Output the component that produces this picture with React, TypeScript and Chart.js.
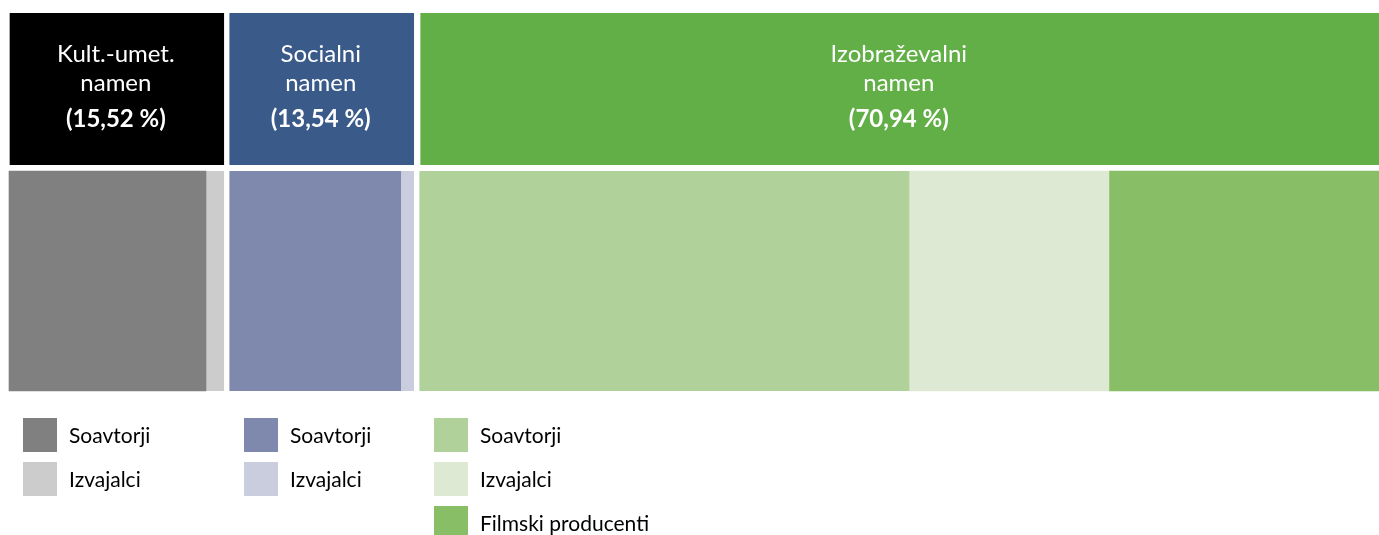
import { useEffect, useRef } from 'react';
import { Chart, registerables } from 'chart.js';

Chart.register(...registerables);

// ---- data ----
const rows = ['Namen', 'Upravičenci'];
const groupTitles = [
  ['Kult.-umet.', 'namen'],
  ['Socialni', 'namen'],
  ['Izobraževalni', 'namen'],
];
const groupShares = [15.52, 13.54, 70.94];
const groupShareLabels = ['(15,52 %)', '(13,54 %)', '(70,94 %)'];

const kultLabels = ['Soavtorji', 'Izvajalci'];
const kultValues = [14.04, 1.48];
const socLabels = ['Soavtorji', 'Izvajalci'];
const socValues = [12.42, 1.12];
const izobLabels = ['Soavtorji', 'Izvajalci', 'Filmski producenti'];
const izobValues = [35.12, 14.22, 21.6];

// ---- styles ----
const headerColors = ['#000000', '#3A5A89', '#62AF47'];
const kultColors = ['#808080', '#CCCCCC'];
const socColors = ['#7F88AD', '#C9CDDE'];
const izobColors = ['#B0D19A', '#DDE9D2', '#87BE66'];
const GAP = 3;
const FONT = 'Lato';

type Group = { labels: string[]; values: number[]; colors: string[] };
const groups: Group[] = [
  { labels: kultLabels, values: kultValues, colors: kultColors },
  { labels: socLabels, values: socValues, colors: socColors },
  { labels: izobLabels, values: izobValues, colors: izobColors },
];

function buildDatasets() {
  const ds: any[] = [];
  groupShares.forEach((v, g) => {
    ds.push({
      label: groupTitles[g].join(' '),
      data: [v, null],
      backgroundColor: headerColors[g],
      borderColor: '#ffffff',
      borderSkipped: false,
      borderWidth: {
        left: g === 0 ? 1 : g === 2 ? GAP + 1 : GAP,
        right: g < groupShares.length - 1 ? GAP : 0,
        top: 0,
        bottom: 0,
      },
      barThickness: 152,
      stack: 's',
      clip: false,
      _kind: 'header',
      _group: g,
    });
  });
  groups.forEach((grp, g) => {
    grp.values.forEach((v, i) => {
      ds.push({
        label: grp.labels[i],
        data: [null, v],
        backgroundColor: grp.colors[i],
        borderColor: '#ffffff',
        borderSkipped: false,
        borderWidth: {
          left: i === 0 && g > 0 ? GAP : 0,
          right: i === grp.values.length - 1 && g < groups.length - 1 ? GAP : 0,
          top: 0,
          bottom: 0,
        },
        barThickness: 220,
        stack: 's',
        clip: false,
        _kind: 'detail',
        _group: g,
        _item: i,
      });
    });
  });
  return ds;
}

const textPlugin = {
  id: 'textPlugin',
  afterDatasetsDraw(chart: any) {
    const ctx = chart.ctx as CanvasRenderingContext2D;
    ctx.save();
    const datasets = chart.data.datasets;
    // header texts
    datasets.forEach((d: any, di: number) => {
      if (d._kind !== 'header') return;
      const el = chart.getDatasetMeta(di).data[0];
      if (!el) return;
      const { x, base, y } = el.getProps(['x', 'base', 'y'], true);
      const left = Math.max(Math.min(x, base) + d.borderWidth.left, 0);
      const right = Math.min(Math.max(x, base) - d.borderWidth.right, chart.width);
      const cx = (left + right) / 2 - 1;
      ctx.fillStyle = '#ffffff';
      ctx.textAlign = 'center';
      ctx.textBaseline = 'alphabetic';
      ctx.font = `24px ${FONT}`;
      ctx.fillText(groupTitles[d._group][0], cx, y - 27);
      ctx.fillText(groupTitles[d._group][1], cx, y + 2);
      ctx.font = `bold 24px ${FONT}`;
      ctx.fillText(groupShareLabels[d._group], cx, y + 38);
    });
    // legend
    datasets.forEach((d: any, di: number) => {
      if (d._kind !== 'detail') return;
      const firstIdx = datasets.findIndex((o: any) => o._kind === 'detail' && o._group === d._group && o._item === 0);
      const firstEl = chart.getDatasetMeta(firstIdx).data[1];
      const firstDs = datasets[firstIdx];
      const el = chart.getDatasetMeta(di).data[1];
      if (!firstEl || !el) return;
      const { base } = firstEl.getProps(['base'], true);
      const { y, height } = el.getProps(['y', 'height'], true);
      const bottom = y + height / 2;
      const sx = Math.round(base + firstDs.borderWidth.left + 14);
      const sy = Math.round(bottom + 27 + d._item * 44);
      ctx.fillStyle = d.backgroundColor;
      ctx.fillRect(sx, sy, 34, 34);
      ctx.fillStyle = '#000000';
      ctx.textAlign = 'left';
      ctx.textBaseline = 'alphabetic';
      ctx.font = `21px ${FONT}`;
      ctx.fillText(d.label, sx + 46, sy + 25);
    });
    ctx.restore();
  },
};

export default function App() {
  const ref = useRef<HTMLCanvasElement>(null);
  useEffect(() => {
    if (!ref.current) return;
    const chart = new Chart(ref.current, {
      type: 'bar',
      data: { labels: rows, datasets: buildDatasets() },
      options: {
        indexAxis: 'y',
        responsive: false,
        animation: false,
        layout: { padding: { top: 89, bottom: 254, left: 9, right: 0 } },
        scales: {
          x: { type: 'linear', stacked: true, min: 0, max: 97.65, display: false, grid: { display: false } },
          y: { type: 'category', stacked: true, offset: false, display: false, grid: { display: false } },
        },
        plugins: {
          legend: { display: false },
          tooltip: { enabled: false },
        },
      },
      plugins: [textPlugin],
    } as any);
    return () => chart.destroy();
  }, []);
  return (
    <div style={{ position: 'absolute', left: 0, top: 0, width: 1379, height: 535, background: '#ffffff' }}>
      <canvas ref={ref} width={1379} height={535} style={{ display: 'block', width: 1379, height: 535 }} />
    </div>
  );
}
